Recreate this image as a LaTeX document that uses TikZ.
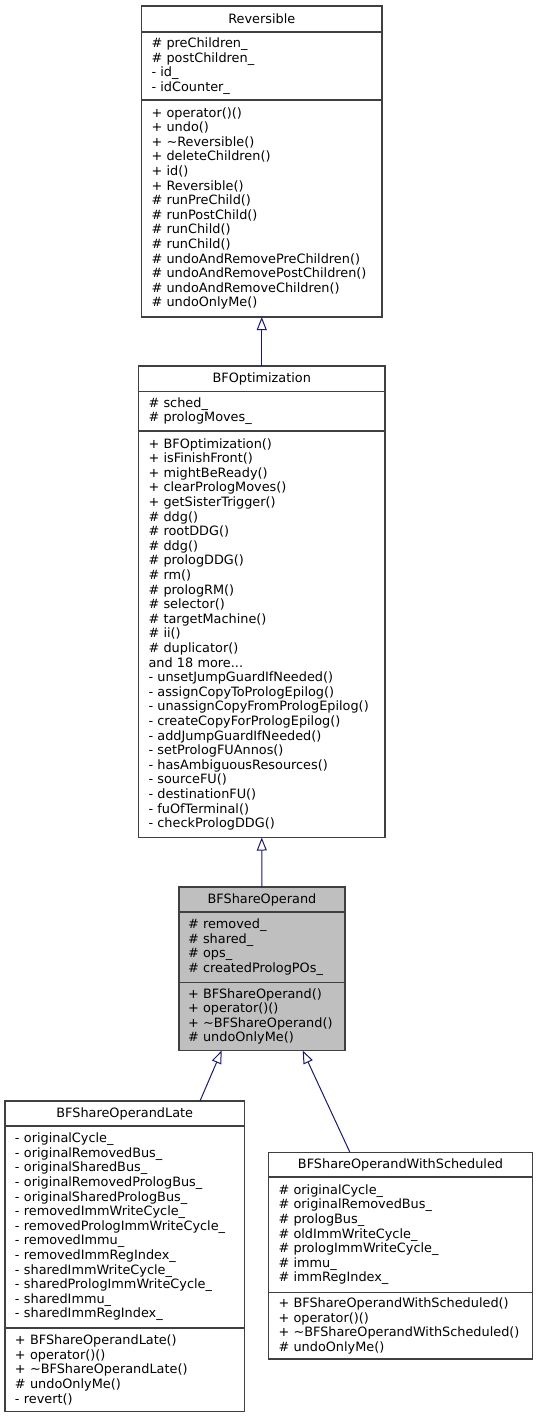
\documentclass[tikz,border=0pt]{standalone}
\usepackage{fontspec}
\setmainfont{DejaVu Sans}
\usetikzlibrary{positioning,arrows.meta}
\definecolor{edgeblue}{HTML}{191970}
\definecolor{boxgray}{HTML}{BFBFBF}
\definecolor{boxline}{HTML}{404040}

\begin{document}
\begin{tikzpicture}[x=1pt,y=1pt,
  font=\fontsize{12.85}{14.6}\selectfont,
  part/.style={draw=boxline,line width=1.1pt,outer sep=0pt,inner xsep=10pt,inner ysep=0pt,align=left},
  head/.style={part,align=center},
  inherit/.style={edgeblue,line width=1pt,-{Triangle[open,length=13pt,width=10pt,fill=white]}}]
\useasboundingbox (0,0) rectangle (538,-1417);

\node[head,minimum width=240.5pt,minimum height=26pt] (revT) at (261.75,-19) {Reversible};
\node[part,text width=220.5pt,minimum height=68pt,below=0pt of revT] (revA) {\# preChildren\_\\\# postChildren\_\\- id\_\\- idCounter\_};
\node[part,text width=220.5pt,minimum height=217pt,below=0pt of revA] (revM) {+ operator()()\\+ undo()\\+ \textasciitilde Reversible()\\+ deleteChildren()\\+ id()\\+ Reversible()\\\# runPreChild()\\\# runPostChild()\\\# runChild()\\\# runChild()\\\# undoAndRemovePreChildren()\\\# undoAndRemovePostChildren()\\\# undoAndRemoveChildren()\\\# undoOnlyMe()};

\node[head,minimum width=246.5pt,minimum height=25.5pt] (optT) at (261.75,-378.75) {BFOptimization};
\node[part,text width=226.5pt,minimum height=39.5pt,below=0pt of optT] (optA) {\# sched\_\\\# prologMoves\_};
\node[part,text width=226.5pt,minimum height=406.5pt,below=0pt of optA] (optM) {+ BFOptimization()\\+ isFinishFront()\\+ mightBeReady()\\+ clearPrologMoves()\\+ getSisterTrigger()\\\# ddg()\\\# rootDDG()\\\# ddg()\\\# prologDDG()\\\# rm()\\\# prologRM()\\\# selector()\\\# targetMachine()\\\# ii()\\\# duplicator()\\and 18 more...\\- unsetJumpGuardIfNeeded()\\- assignCopyToPrologEpilog()\\- unassignCopyFromPrologEpilog()\\- createCopyForPrologEpilog()\\- addJumpGuardIfNeeded()\\- setPrologFUAnnos()\\- hasAmbiguousResources()\\- sourceFU()\\- destinationFU()\\- fuOfTerminal()\\- checkPrologDDG()};

\node[head,fill=boxgray,minimum width=166pt,minimum height=25pt] (shareT) at (262,-899.5) {BFShareOperand};
\node[part,fill=boxgray,inner xsep=9pt,text width=148pt,minimum height=70.5pt,below=0pt of shareT] (shareA) {\# removed\_\\\# shared\_\\\# ops\_\\\# createdPrologPOs\_};
\node[part,fill=boxgray,inner xsep=9pt,text width=148pt,minimum height=68pt,below=0pt of shareA] (shareM) {+ BFShareOperand()\\+ operator()()\\+ \textasciitilde BFShareOperand()\\\# undoOnlyMe()};

\node[head,minimum width=239.5pt,minimum height=25pt] (lateT) at (124.75,-1113.5) {BFShareOperandLate};
\node[part,text width=219.5pt,minimum height=202pt,below=0pt of lateT] (lateA) {- originalCycle\_\\- originalRemovedBus\_\\- originalSharedBus\_\\- originalRemovedPrologBus\_\\- originalSharedPrologBus\_\\- removedImmWriteCycle\_\\- removedPrologImmWriteCycle\_\\- removedImmu\_\\- removedImmRegIndex\_\\- sharedImmWriteCycle\_\\- sharedPrologImmWriteCycle\_\\- sharedImmu\_\\- sharedImmRegIndex\_};
\node[part,text width=219.5pt,minimum height=83.5pt,below=0pt of lateA] (lateM) {+ BFShareOperandLate()\\+ operator()()\\+ \textasciitilde BFShareOperandLate()\\\# undoOnlyMe()\\- revert()};

\node[head,minimum width=264pt,minimum height=24.5pt] (schedT) at (400.5,-1164.75) {BFShareOperandWithScheduled};
\node[part,text width=244pt,minimum height=115.5pt,below=0pt of schedT] (schedA) {\# originalCycle\_\\\# originalRemovedBus\_\\\# prologBus\_\\\# oldImmWriteCycle\_\\\# prologImmWriteCycle\_\\\# immu\_\\\# immRegIndex\_};
\node[part,text width=244pt,minimum height=66.5pt,below=0pt of schedA] (schedM) {+ BFShareOperandWithScheduled()\\+ operator()()\\+ \textasciitilde BFShareOperandWithScheduled()\\\# undoOnlyMe()};

\draw[inherit] (optT.north) -- (revM.south);
\draw[inherit] (shareT.north) -- (optM.south);
\draw[inherit] ([xshift=75.25pt]lateT.north) -- ([xshift=-40.3pt]shareM.south);
\draw[inherit] ([xshift=-50.5pt]schedT.north) -- ([xshift=40.7pt]shareM.south);
\end{tikzpicture}
\end{document}
